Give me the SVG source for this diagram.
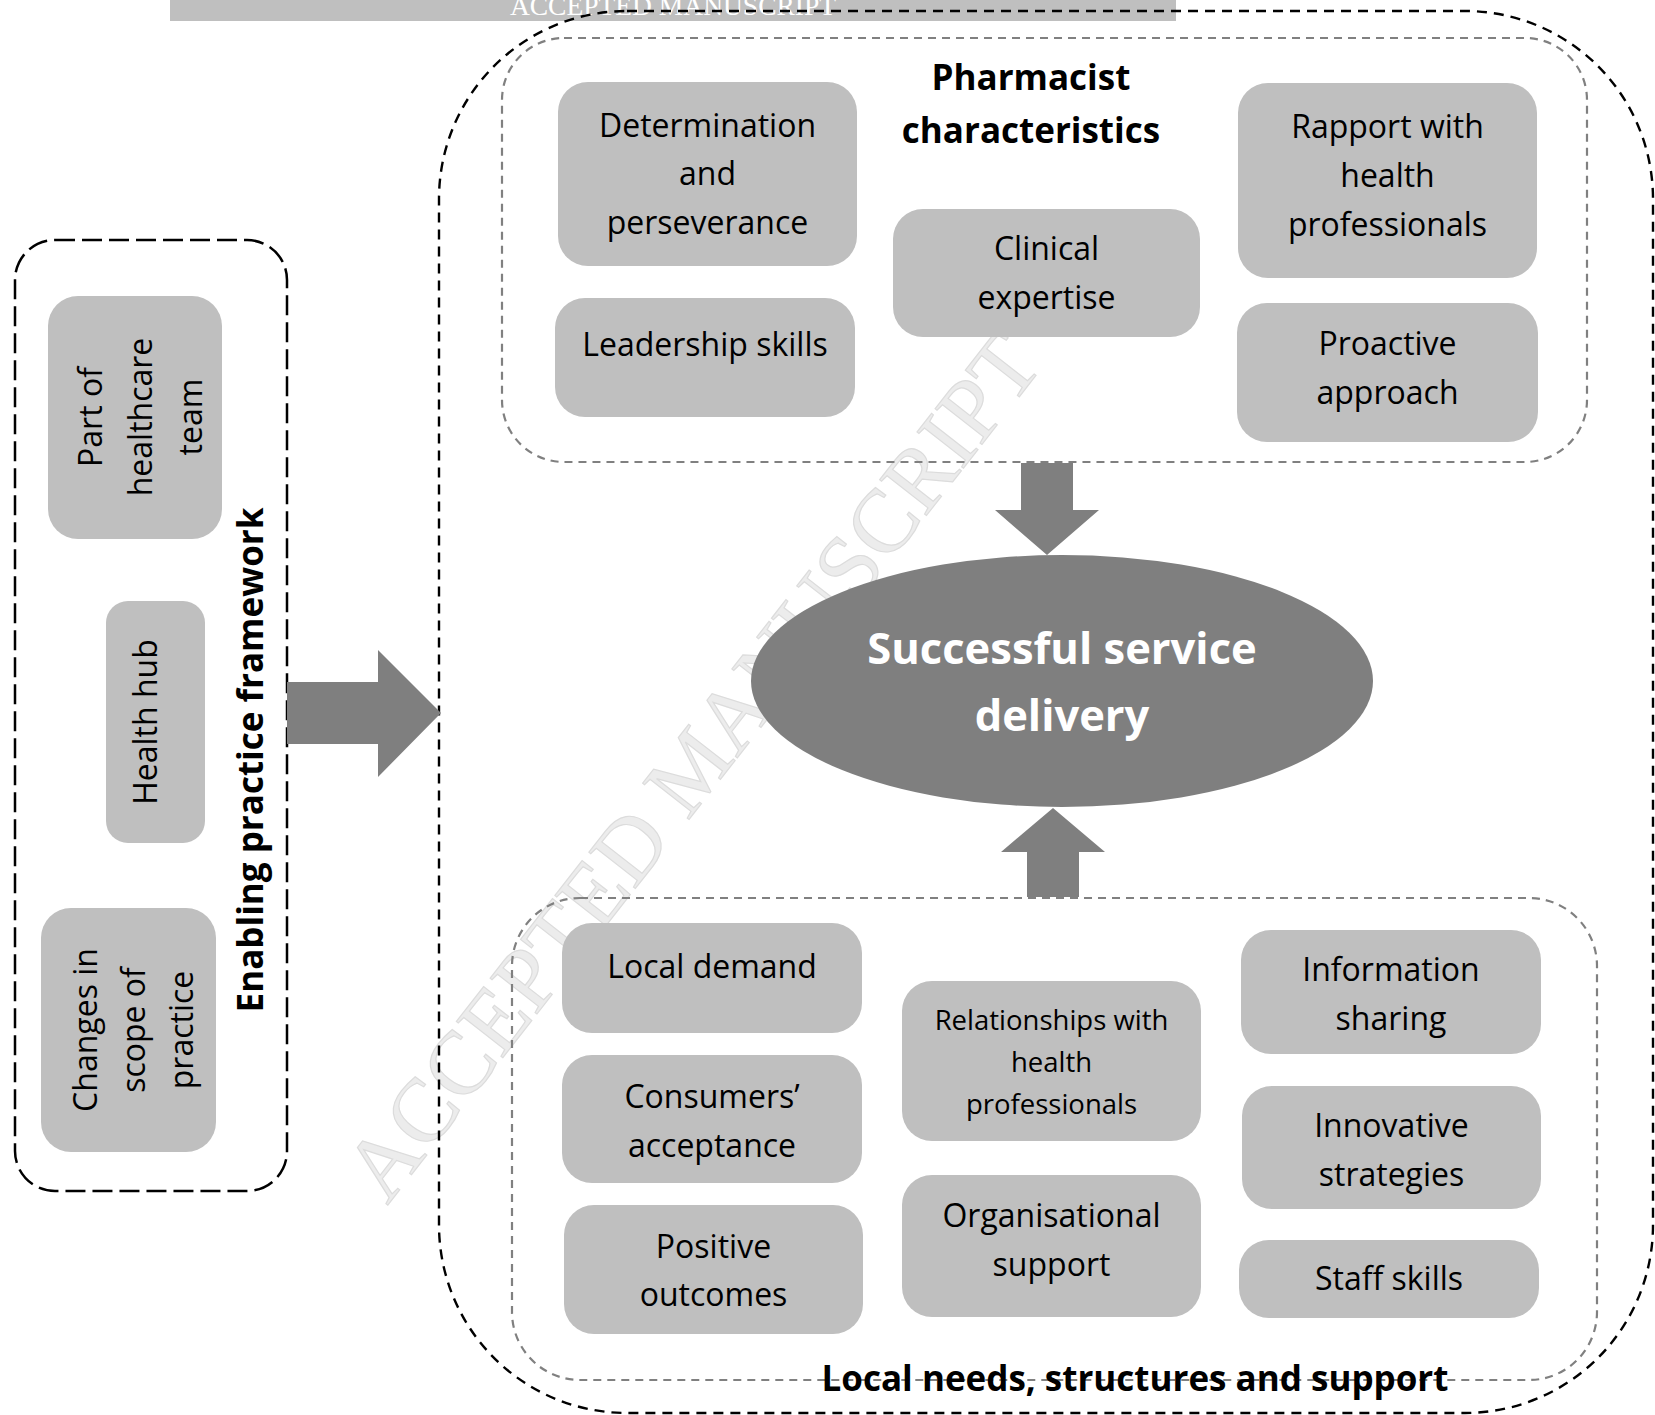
<svg xmlns="http://www.w3.org/2000/svg" width="1655" height="1415" viewBox="0 0 1655 1415">
<style>
.box{fill:#bfbfbf}
.t{font-family:"Open Sans","Noto Sans","Liberation Sans",sans-serif;font-size:32px;fill:#000;text-anchor:middle}
.ts{font-size:27.5px}
.b{font-family:"Open Sans","Noto Sans","Liberation Sans",sans-serif;font-weight:bold;font-size:35px;fill:#000;text-anchor:middle}
.arrow{fill:#7f7f7f}
.outer{fill:none;stroke:#000;stroke-width:2.4;stroke-dasharray:10 7}
.left{fill:none;stroke:#000;stroke-width:2.5;stroke-dasharray:20 7}
.inner{fill:none;stroke:#808080;stroke-width:2.2;stroke-dasharray:8 6}
</style>
<rect width="1655" height="1415" fill="#fff"/>
<text transform="translate(716,785) rotate(-52)" text-anchor="middle" font-family="Liberation Serif,serif" font-size="90" fill="#ececec" stroke="#dcdcdc" stroke-width="1.2">ACCEPTED MANUSCRIPT</text>
<rect x="170" y="0" width="1006" height="21" fill="#bfbfbf"/>
<text x="673" y="15" text-anchor="middle" font-family="Liberation Serif,serif" font-size="27.5" fill="#fff">ACCEPTED MANUSCRIPT</text>

<g id="containers">
<rect class="outer" x="439" y="11" width="1214" height="1402" rx="188" ry="188"/>
<rect class="inner" x="502" y="38" width="1085" height="424" rx="62" ry="62"/>
<rect class="inner" x="512" y="898" width="1085" height="482" rx="68" ry="68"/>
<rect class="left" x="15" y="240" width="272" height="951" rx="40" ry="40"/>
</g>

<g id="connectors">
<polygon class="arrow" points="287,682 378,682 378,650 441,713 378,777 378,744 287,744"/>
<polygon class="arrow" points="1021,463 1073,463 1073,510 1099,510 1047,555 995,510 1021,510"/>
<polygon class="arrow" points="1027,897 1079,897 1079,852 1105,852 1053,808 1001,852 1027,852"/>
</g>

<g id="title-pharmacist"><text class="b" x="1031" y="90">Pharmacist</text><text class="b" x="1031" y="143">characteristics</text></g>

<g id="n-determination"><rect class="box" x="558" y="82" width="299" height="184" rx="30"/>
<text class="t" x="707.5" y="137">Determination</text><text class="t" x="707.5" y="185">and</text><text class="t" x="707.5" y="234">perseverance</text></g>
<g id="n-leadership"><rect class="box" x="555" y="298" width="300" height="119" rx="30"/>
<text class="t" x="705" y="356">Leadership skills</text></g>
<g id="n-clinical"><rect class="box" x="893" y="209" width="307" height="128" rx="30"/>
<text class="t" x="1046.5" y="260">Clinical</text><text class="t" x="1046.5" y="309">expertise</text></g>
<g id="n-rapport"><rect class="box" x="1238" y="83" width="299" height="195" rx="30"/>
<text class="t" x="1387.5" y="138">Rapport with</text><text class="t" x="1387.5" y="187">health</text><text class="t" x="1387.5" y="236">professionals</text></g>
<g id="n-proactive"><rect class="box" x="1237" y="303" width="301" height="139" rx="30"/>
<text class="t" x="1387.5" y="355">Proactive</text><text class="t" x="1387.5" y="404">approach</text></g>

<g id="n-success"><ellipse cx="1062" cy="681" rx="311" ry="126" fill="#7f7f7f"/>
<text class="b" x="1062" y="664" style="font-size:43.5px;fill:#fff">Successful service</text>
<text class="b" x="1062" y="731" style="font-size:43.5px;fill:#fff">delivery</text></g>

<g id="n-localdemand"><rect class="box" x="562" y="923" width="300" height="110" rx="30"/>
<text class="t" x="712" y="978">Local demand</text></g>
<g id="n-consumers"><rect class="box" x="562" y="1055" width="300" height="128" rx="30"/>
<text class="t" x="712" y="1108">Consumers’</text><text class="t" x="712" y="1157">acceptance</text></g>
<g id="n-positive"><rect class="box" x="564" y="1205" width="299" height="129" rx="30"/>
<text class="t" x="713.5" y="1258">Positive</text><text class="t" x="713.5" y="1306">outcomes</text></g>
<g id="n-relationships"><rect class="box" x="902" y="981" width="299" height="160" rx="30"/>
<text class="t ts" x="1051.5" y="1030">Relationships with</text><text class="t ts" x="1051.5" y="1072">health</text><text class="t ts" x="1051.5" y="1114">professionals</text></g>
<g id="n-organisational"><rect class="box" x="902" y="1175" width="299" height="142" rx="30"/>
<text class="t" x="1051.5" y="1227">Organisational</text><text class="t" x="1051.5" y="1276">support</text></g>
<g id="n-information"><rect class="box" x="1241" y="930" width="300" height="124" rx="30"/>
<text class="t" x="1391" y="981">Information</text><text class="t" x="1391" y="1030">sharing</text></g>
<g id="n-innovative"><rect class="box" x="1242" y="1086" width="299" height="123" rx="30"/>
<text class="t" x="1391.5" y="1137">Innovative</text><text class="t" x="1391.5" y="1186">strategies</text></g>
<g id="n-staff"><rect class="box" x="1239" y="1240" width="300" height="78" rx="30"/>
<text class="t" x="1389" y="1290">Staff skills</text></g>

<g id="title-local"><text class="b" x="1135" y="1391">Local needs, structures and support</text></g>

<g id="n-part"><rect class="box" x="48" y="296" width="174" height="243" rx="30"/>
<text class="t" transform="translate(102,417) rotate(-90)">Part of</text>
<text class="t" transform="translate(152,417) rotate(-90)">healthcare</text>
<text class="t" transform="translate(202,417) rotate(-90)">team</text></g>
<g id="n-hub"><rect class="box" x="106" y="601" width="99" height="242" rx="22"/>
<text class="t" transform="translate(157,722) rotate(-90)">Health hub</text></g>
<g id="n-changes"><rect class="box" x="41" y="908" width="175" height="244" rx="30"/>
<text class="t" transform="translate(97,1030) rotate(-90)">Changes in</text>
<text class="t" transform="translate(145,1030) rotate(-90)">scope of</text>
<text class="t" transform="translate(193,1030) rotate(-90)">practice</text></g>
<g id="title-enabling"><text class="b" transform="translate(263,760) rotate(-90)">Enabling practice framework</text></g>
</svg>
